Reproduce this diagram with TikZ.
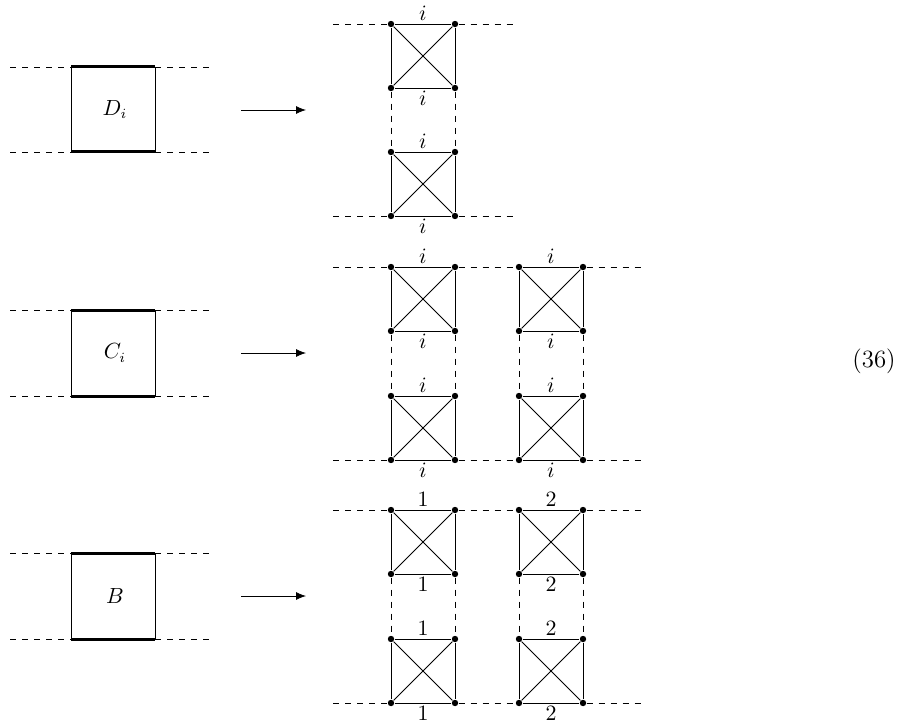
\documentclass[tikz,border=0pt]{standalone}
\usetikzlibrary{arrows.meta}
\begin{document}
\begin{tikzpicture}[x=0.5pt,y=-0.5pt,
  dsh/.style={dashed, line width=0.4pt},
  edge/.style={line width=0.4pt},
  thk/.style={line width=1.5pt},
  vtx/.style={circle, fill, inner sep=0pt, minimum size=3.2pt},
  lab/.style={inner sep=1.5pt, font=\fontsize{10.5}{12}\selectfont},
  arr/.style={-{Latex[length=5pt,width=4pt]}, line width=0.4pt}]
\useasboundingbox (0,0) rectangle (904,727);

% ---- left boxes ----
\foreach \n/\t/\b/\txt in {d/67/152/{$D_i$}, c/310/396/{$C_i$}, b/553/639/{$B$}}{
  \coordinate (\n l1) at (10,\t); \coordinate (\n r1) at (215,\t);
  \coordinate (\n l2) at (10,\b); \coordinate (\n r2) at (215,\b);
  \coordinate (\n a) at (71,\t); \coordinate (\n bb) at (155,\t);
  \coordinate (\n c) at (71,\b); \coordinate (\n dd) at (155,\b);
  \draw[dsh] (\n l1) -- (\n a); \draw[dsh] (\n bb) -- (\n r1);
  \draw[dsh] (\n l2) -- (\n c); \draw[dsh] (\n dd) -- (\n r2);
  \draw[edge] (\n a) -- (\n c); \draw[edge] (\n bb) -- (\n dd);
  \draw[thk] (\n a) -- (\n bb); \draw[thk] (\n c) -- (\n dd);
  \node[font=\fontsize{10.5}{12}\selectfont] (\n lab) at (115,{(\t+\b)/2}) {\txt};
}

% ---- arrows ----
\foreach \n/\y in {1/110, 2/353, 3/596}{
  \coordinate (as\n) at (241,\y); \coordinate (ae\n) at (306,\y);
  \draw[arr] (as\n) -- (ae\n);
}

% ---- K4 squares ----
\foreach \n/\x/\y/\lt/\lb in {
  p1/391/24/i/i, p2/391/152/i/i,
  q1/391/267/i/i, q2/391/396/i/i, r1/519/267/i/i, r2/519/396/i/i,
  s1/391/510/1/1, s2/391/639/1/1, t1/519/510/2/2, t2/519/639/2/2}{
  \node[vtx] (\n tl) at (\x,\y) {};
  \node[vtx] (\n tr) at (\x+64,\y) {};
  \node[vtx] (\n bl) at (\x,\y+64) {};
  \node[vtx] (\n br) at (\x+64,\y+64) {};
  \draw[edge] (\n tl) -- (\n tr) -- (\n br) -- (\n bl) -- (\n tl);
  \draw[edge] (\n tl) -- (\n br);
  \draw[edge] (\n tr) -- (\n bl);
  \path (\n tl) -- (\n tr) node[midway, above, lab] (\n lt) {$\lt$};
  \path (\n bl) -- (\n br) node[midway, below, lab] (\n lb) {$\lb$};
}

% vertical dashed connections
\foreach \u/\l in {p1/p2, q1/q2, r1/r2, s1/s2, t1/t2}{
  \draw[dsh] (\u bl) -- (\l tl);
  \draw[dsh] (\u br) -- (\l tr);
}

% horizontal dashed lines
\coordinate (e1) at (333,24); \coordinate (f1) at (513,24);
\coordinate (e2) at (333,216); \coordinate (f2) at (513,216);
\draw[dsh] (e1) -- (p1tl); \draw[dsh] (p1tr) -- (f1);
\draw[dsh] (e2) -- (p2bl); \draw[dsh] (p2br) -- (f2);

\foreach \a/\b/\y in {q1/r1/267, q2/r2/460, s1/t1/510, s2/t2/703}{
  \coordinate (g\a) at (333,\y); \coordinate (h\a) at (641,\y);
}
\draw[dsh] (gq1) -- (q1tl); \draw[dsh] (q1tr) -- (r1tl); \draw[dsh] (r1tr) -- (hq1);
\draw[dsh] (gq2) -- (q2bl); \draw[dsh] (q2br) -- (r2bl); \draw[dsh] (r2br) -- (hq2);
\draw[dsh] (gs1) -- (s1tl); \draw[dsh] (s1tr) -- (t1tl); \draw[dsh] (t1tr) -- (hs1);
\draw[dsh] (gs2) -- (s2bl); \draw[dsh] (s2br) -- (t2bl); \draw[dsh] (t2br) -- (hs2);

\node[font=\fontsize{12.4}{14}\selectfont] (eqn) at (874,361) {(36)};
\end{tikzpicture}
\end{document}
